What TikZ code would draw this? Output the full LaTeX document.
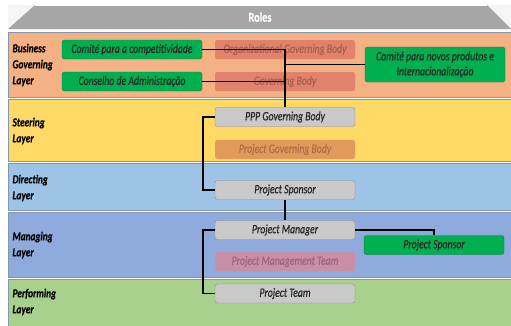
\documentclass[tikz,border=0pt]{standalone}
\usepackage{fontspec}
\setmainfont{Carlito}[FakeStretch=0.76,FakeBold=0.4]
\usepackage{tikz}
\usetikzlibrary{calc}
\usepackage{xcolor}
\definecolor{RoleGreen}{HTML}{00B050}
\definecolor{RoleGreenLine}{HTML}{00843C}
\definecolor{RoleGray}{HTML}{C9C9C9}
\definecolor{RoleGrayLine}{HTML}{8C8C8C}
\definecolor{HeadGray}{HTML}{A6A6A6}
\definecolor{BandBusiness}{HTML}{F4B183}
\definecolor{BandSteering}{HTML}{FFD966}
\definecolor{BandDirecting}{HTML}{9DC3E6}
\definecolor{BandManaging}{HTML}{8FAADC}
\definecolor{BandPerforming}{HTML}{A9D18E}
\definecolor{BandEdge}{HTML}{8497B0}
\definecolor{FadeRed}{HTML}{E0826C}
\definecolor{FadeRedText}{HTML}{A8604C}
\definecolor{FadeOrange}{HTML}{E29A5C}
\definecolor{FadeOrangeText}{HTML}{B06E40}
\definecolor{FadePink}{HTML}{C98FA6}
\definecolor{FadePinkText}{HTML}{96687E}

\begin{document}
\begin{tikzpicture}[x=1pt,y=-1pt,
   band/.style={draw=BandEdge,line width=0.8pt},
   layer/.style={anchor=west,align=left,font=\bfseries\itshape\fontsize{12.3}{16}\selectfont},
   role/.style={rounded corners=2.5pt,minimum width=140pt,minimum height=19pt,inner sep=1pt,
     font=\itshape\fontsize{12.8}{15}\selectfont},
   grayrole/.style={role,fill=RoleGray,draw=RoleGrayLine,text=black!85},
   greenrole/.style={role,fill=RoleGreen,draw=RoleGreenLine,text=black!85},
   faderole/.style={role,draw=none},
   conn/.style={line width=1.9pt,black}]
   \useasboundingbox (0,0) rectangle (511,325);

   % header
   \fill[black!4] (8,5) rectangle (511,30);
   \fill[HeadGray] (35,5) -- (487,5) -- (511,29) -- (8,29) -- cycle;
   \draw[white,line width=0.6pt] (35,5.5) -- (487,5.5);
   \node[text=white,font=\bfseries\fontsize{13.5}{15}\selectfont] (roles) at (260,17) {Roles};

   % layers
   \filldraw[band,fill=BandBusiness] (8,32) rectangle (513,97);
   \filldraw[band,fill=BandSteering] (8,99) rectangle (513,161);
   \filldraw[band,fill=BandDirecting] (8,163) rectangle (513,210);
   \filldraw[band,fill=BandManaging] (8,212) rectangle (513,277);
   \filldraw[band,fill=BandPerforming] (8,279) rectangle (513,327);

   \node[layer] (lbusiness) at (9,65) {Business\\Governing\\Layer};
   \node[layer] (lsteering) at (9,131) {Steering\\Layer};
   \node[layer] (ldirecting) at (9,188) {Directing\\Layer};
   \node[layer] (lmanaging) at (9,245) {Managing\\Layer};
   \node[layer] (lperforming) at (9,302) {Performing\\Layer};

   % roles
   \node[greenrole] (comite) at (132,49.5) {Comité para a competitividade};
   \node[greenrole] (conselho) at (132,81.5) {Conselho de Administração};
   \node[faderole,fill=FadeRed,text=FadeRedText] (orggov) at (285,49.5) {Organizational Governing Body};
   \node[faderole,fill=FadeRed,text=FadeRedText] (govbody) at (285,81.5) {Governing Body};
   \node[greenrole,minimum height=35pt,align=center] (novos) at (435,64.5)
      {Comité para novos produtos e\\Internacionalização};
   \node[grayrole] (ppp) at (285,117) {PPP Governing Body};
   \node[faderole,fill=FadeOrange,text=FadeOrangeText] (projgov) at (285,149.5) {Project Governing Body};
   \node[grayrole] (sponsor) at (285,190) {Project Sponsor};
   \node[grayrole] (manager) at (285,230) {Project Manager};
   \node[faderole,fill=FadePink,text=FadePinkText] (pmteam) at (285,261.5) {Project Management Team};
   \node[greenrole] (sponsorb) at (434,245) {Project Sponsor};
   \node[grayrole] (team) at (285,293.5) {Project Team};

   % connectors
   \draw[conn] (comite.east) -| (ppp.north);
   \draw[conn] (conselho.east) -- (conselho.east -| ppp.north);
   \draw[conn] (novos.west) -- (novos.west -| ppp.north);
   \draw[conn] (ppp.west) -- ++(-12,0) |- (sponsor.west);
   \draw[conn] (sponsor.south) -- (manager.north);
   \draw[conn] (manager.east) -| (sponsorb.north);
   \draw[conn] (manager.west) -- ++(-12,0) |- (team.west);
\end{tikzpicture}
\end{document}
